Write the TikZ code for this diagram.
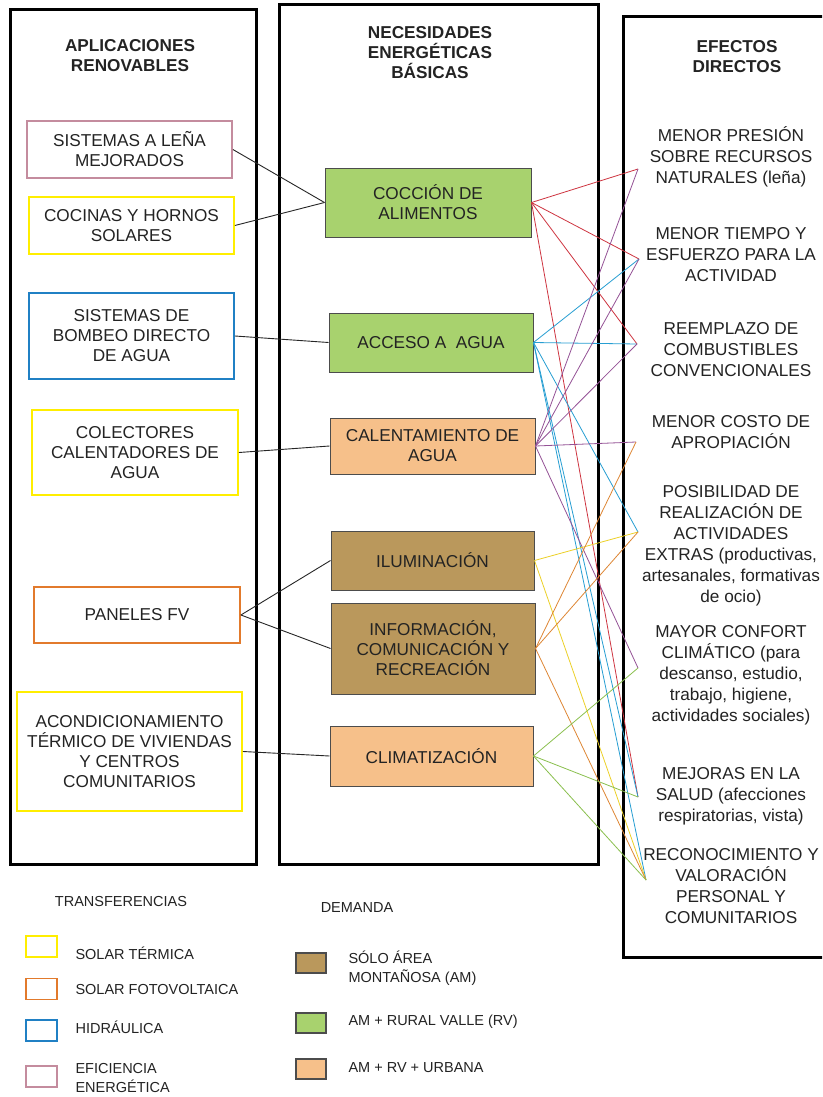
\documentclass[tikz,border=0pt]{standalone}
\usepackage{fontspec}
\setmainfont{Liberation Sans}
\usepackage{tikz}
\usepackage{xcolor}

\definecolor{amarillo}{RGB}{255,238,0}
\definecolor{rosa}{RGB}{196,140,158}
\definecolor{azul}{RGB}{32,128,196}
\definecolor{naranja}{RGB}{226,122,44}
\definecolor{verde}{RGB}{168,210,110}
\definecolor{marron}{RGB}{186,152,92}
\definecolor{durazno}{RGB}{246,192,138}
\definecolor{lrojo}{RGB}{206,52,64}
\definecolor{lmorado}{RGB}{148,82,150}
\definecolor{lceleste}{RGB}{38,158,210}
\definecolor{lamarillo}{RGB}{236,208,40}
\definecolor{lnaranja}{RGB}{222,134,52}
\definecolor{lverde}{RGB}{138,192,78}
\definecolor{texto}{RGB}{35,35,35}

\begin{document}
\begin{tikzpicture}[x=1pt, y=-1pt,
  panel/.style={draw=black, line width=3pt},
  aplic/.style={draw, line width=1.8pt, align=center, text=texto, inner sep=0pt, font=\fontsize{17.2}{20}\selectfont},
  necesidad/.style={draw=black!70, line width=1pt, align=center, text=texto, inner sep=0pt, font=\fontsize{17.2}{20}\selectfont},
  efecto/.style={align=center, text=texto, font=\fontsize{17.2}{21}\selectfont},
  titulo/.style={align=center, text=texto, font=\fontsize{17.2}{20}\selectfont\bfseries},
  enlace/.style={line width=0.9pt, draw=black!85},
  efec/.style={line width=0.8pt},
  muestra/.style={line width=1.2pt, inner sep=0pt, minimum width=31pt, minimum height=21pt},
  leyenda/.style={text=texto, anchor=west, align=left, font=\fontsize{14.5}{19}\selectfont}]
\clip (0,0) rectangle (822,1097);
\fill[white] (0,0) rectangle (822,1097);

% Columns
\draw[panel] (10,10) rectangle (256,864);
\draw[panel] (279,5) rectangle (598,864);
\draw[panel] (623,17) rectangle (850,957);

\node[titulo] (tapl) at (130,56) {APLICACIONES\\RENOVABLES};
\node[titulo] (tnec) at (430,53) {NECESIDADES\\ENERGÉTICAS\\BÁSICAS};
\node[titulo] (tefe) at (737,57) {EFECTOS\\DIRECTOS};

% Renewable applications
\node[aplic, draw=rosa, minimum width=205pt, minimum height=57pt] (lena) at (129.5,149.5) {SISTEMAS A LEÑA\\MEJORADOS};
\node[aplic, draw=amarillo, minimum width=205pt, minimum height=57pt] (cocinas) at (131.5,225.5) {COCINAS Y HORNOS\\SOLARES};
\node[aplic, draw=azul, minimum width=205pt, minimum height=86pt] (bombeo) at (131.5,336) {SISTEMAS DE\\BOMBEO DIRECTO\\DE AGUA};
\node[aplic, draw=amarillo, minimum width=206pt, minimum height=85pt] (colectores) at (135,452.5) {COLECTORES\\CALENTADORES DE\\AGUA};
\node[aplic, draw=naranja, minimum width=206pt, minimum height=56pt] (paneles) at (137,615) {PANELES FV};
\node[aplic, draw=amarillo, minimum width=225pt, minimum height=119pt] (acondic) at (129.5,751.5) {ACONDICIONAMIENTO\\TÉRMICO DE VIVIENDAS\\Y CENTROS\\COMUNITARIOS};

% Basic energy needs
\node[necesidad, fill=verde, minimum width=206pt, minimum height=69pt] (coc) at (428,202.5) {COCCIÓN DE\\ALIMENTOS};
\node[necesidad, fill=verde, minimum width=204pt, minimum height=59pt] (acc) at (431,342.5) {ACCESO A\ \ AGUA};
\node[necesidad, fill=durazno, minimum width=205pt, minimum height=56pt] (cal) at (432.5,446) {CALENTAMIENTO DE\\AGUA};
\node[necesidad, fill=marron, minimum width=203pt, minimum height=59pt] (ilu) at (432.5,560.5) {ILUMINACIÓN};
\node[necesidad, fill=marron, minimum width=204pt, minimum height=91pt] (inf) at (433,648.5) {INFORMACIÓN,\\COMUNICACIÓN Y\\RECREACIÓN};
\node[necesidad, fill=durazno, minimum width=203pt, minimum height=60pt] (cli) at (431.5,756) {CLIMATIZACIÓN};

% Direct effects
\node[efecto] (f1) at (731,157) {MENOR PRESIÓN\\SOBRE RECURSOS\\NATURALES (leña)};
\node[efecto] (f2) at (731,255) {MENOR TIEMPO Y\\ESFUERZO PARA LA\\ACTIVIDAD};
\node[efecto] (f3) at (731,350) {REEMPLAZO DE\\COMBUSTIBLES\\CONVENCIONALES};
\node[efecto] (f4) at (731,432) {MENOR COSTO DE\\APROPIACIÓN};
\node[efecto] (f5) at (731,546) {POSIBILIDAD DE\\REALIZACIÓN DE\\ACTIVIDADES\\EXTRAS (productivas,\\artesanales, formativas\\de ocio)};
\node[efecto] (f6) at (731,675) {MAYOR CONFORT\\CLIMÁTICO (para\\descanso, estudio,\\trabajo, higiene,\\actividades sociales)};
\node[efecto] (f7) at (731,796) {MEJORAS EN LA\\SALUD (afecciones\\respiratorias, vista)};
\node[efecto] (f8) at (731,886) {RECONOCIMIENTO Y\\VALORACIÓN\\PERSONAL Y\\COMUNITARIOS};

\coordinate (e1) at (638,169);
\coordinate (e2) at (639,259);
\coordinate (e3) at (637,344);
\coordinate (e4) at (636,442);
\coordinate (e5) at (638,532);
\coordinate (e6) at (638,668);
\coordinate (e7) at (638,797);
\coordinate (e8) at (646,880);

% Applications to needs
\draw[enlace] (lena.east) -- (coc.west);
\draw[enlace] (cocinas.east) -- (coc.west);
\draw[enlace] (bombeo.east) -- (acc.west);
\draw[enlace] (colectores.east) -- (cal.west);
\draw[enlace] (paneles.east) -- (ilu.west);
\draw[enlace] (paneles.east) -- (inf.west);
\draw[enlace] (acondic.east) -- (cli.west);

% Needs to effects
\foreach \e in {e1,e2,e3,e7} \draw[efec, lrojo] (coc.east) -- (\e);
\foreach \e in {e2,e3,e5,e7,e8} \draw[efec, lceleste] (acc.east) -- (\e);
\foreach \e in {e1,e2,e3,e4,e6} \draw[efec, lmorado] (cal.east) -- (\e);
\foreach \e in {e5,e8} \draw[efec, lamarillo] (ilu.east) -- (\e);
\foreach \e in {e4,e5,e8} \draw[efec, lnaranja] (inf.east) -- (\e);
\foreach \e in {e6,e7,e8} \draw[efec, lverde] (cli.east) -- (\e);

% Legend
\node[text=texto, font=\fontsize{14.5}{18}\selectfont] (ttra) at (121,901) {TRANSFERENCIAS};
\node[muestra, draw=amarillo] (mst) at (41.5,946.5) {};
\node[leyenda] (lst) at (72,953) {SOLAR TÉRMICA};
\node[muestra, draw=naranja] (msf) at (41.5,989) {};
\node[leyenda] (lsf) at (72,989) {SOLAR FOTOVOLTAICA};
\node[muestra, draw=azul] (mhi) at (41.5,1030.5) {};
\node[leyenda] (lhi) at (72,1027) {HIDRÁULICA};
\node[muestra, draw=rosa] (mee) at (41.5,1076.5) {};
\node[leyenda] (lee) at (72,1078) {EFICIENCIA\\ENERGÉTICA};

\node[text=texto, font=\fontsize{14.5}{18}\selectfont] (tdem) at (357,908) {DEMANDA};
\node[muestra, draw=black!70, fill=marron, minimum width=30pt, minimum height=20pt] (mam) at (311,963) {};
\node[leyenda] (lam) at (345,968) {SÓLO ÁREA\\MONTAÑOSA (AM)};
\node[muestra, draw=black!70, fill=verde, minimum width=30pt, minimum height=20pt] (mrv) at (311,1023) {};
\node[leyenda] (lrv) at (345,1022) {AM + RURAL VALLE (RV)};
\node[muestra, draw=black!70, fill=durazno, minimum width=30pt, minimum height=20pt] (mur) at (311,1069) {};
\node[leyenda] (lur) at (345,1068) {AM + RV + URBANA};
\end{tikzpicture}
\end{document}
